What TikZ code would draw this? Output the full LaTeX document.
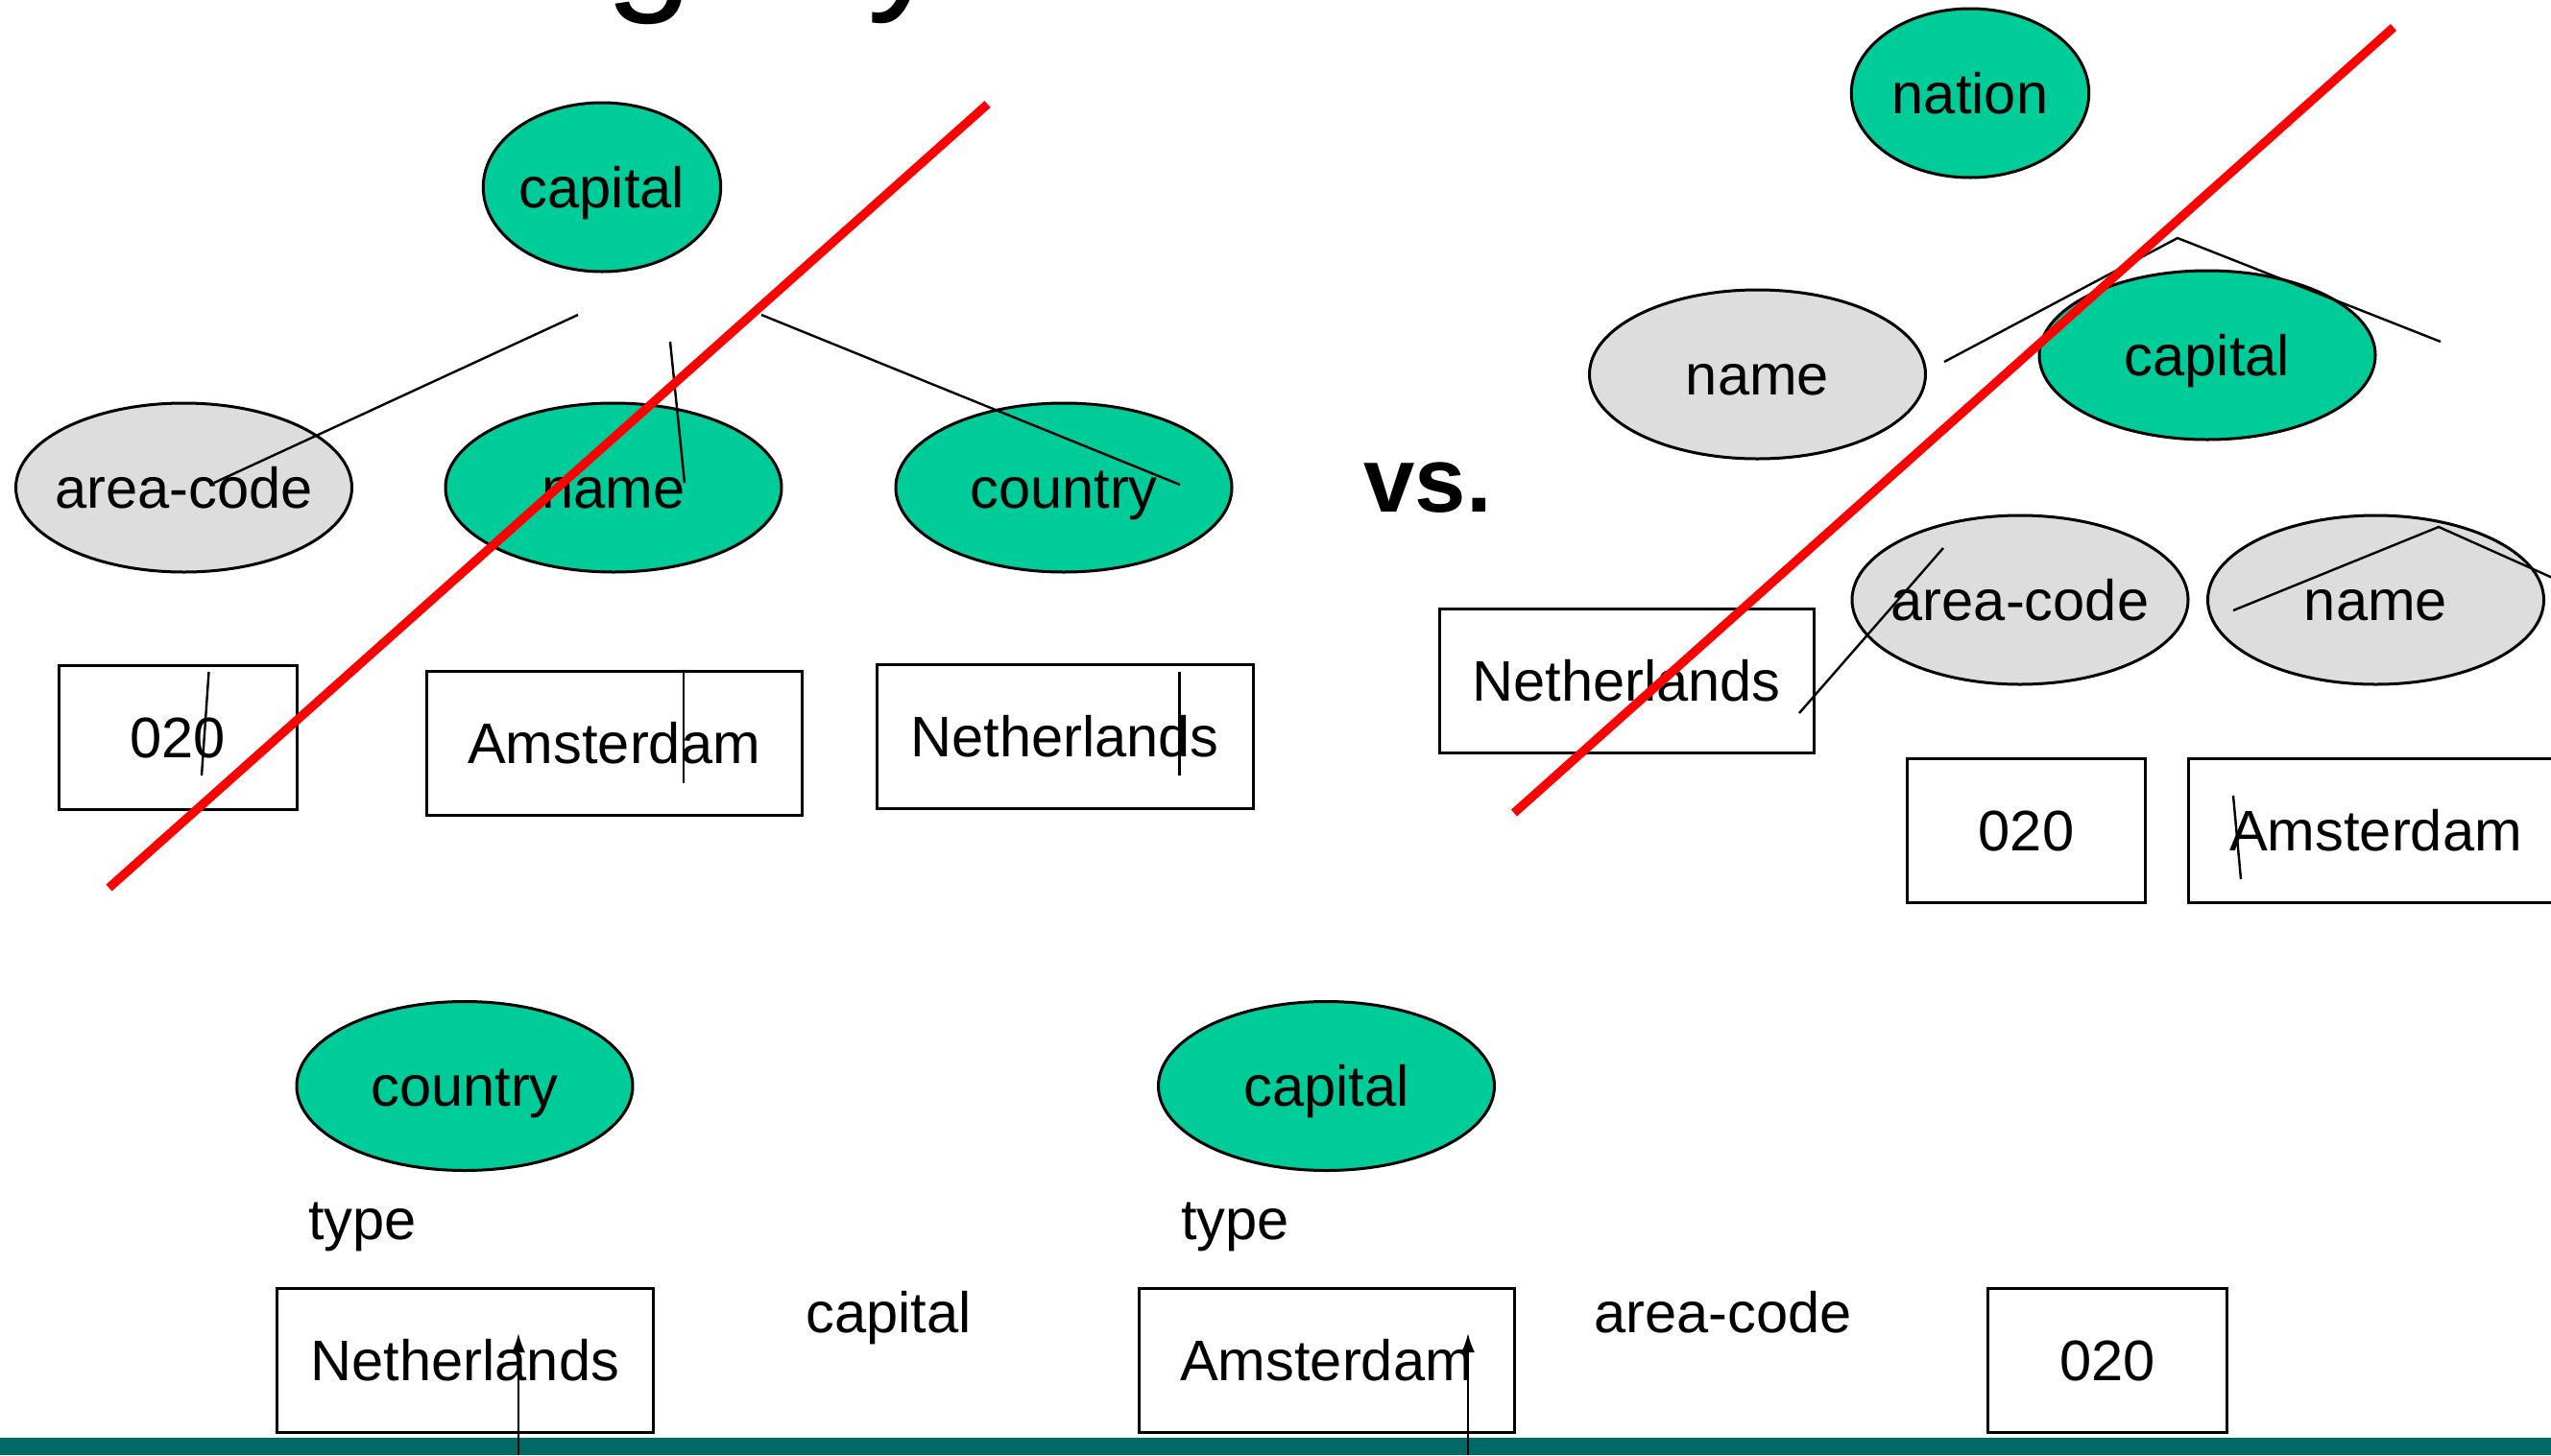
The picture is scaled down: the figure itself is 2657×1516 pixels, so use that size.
\documentclass[tikz,border=0pt]{standalone}
\usepackage{fontspec}
\setmainfont{Liberation Sans}
\usetikzlibrary{shapes.geometric,arrows.meta}
\definecolor{conceptgreen}{HTML}{00CC99}
\definecolor{attrgrey}{HTML}{DDDDDD}
\definecolor{footerteal}{HTML}{006966}
\definecolor{strikered}{HTML}{FF0000}
\newcommand{\bodyfont}{\fontsize{29.8}{36}\selectfont}
% label that does not widen the ellipse around it
\newcommand{\inlbl}[1]{\makebox[0pt]{#1}}

\begin{document}
\begin{tikzpicture}[x=0.5pt,y=-0.5pt,
  lbl/.style={font=\bodyfont, inner sep=0pt, text height=21.4pt, text depth=0pt},
  freelbl/.style={font=\bodyfont, inner sep=0pt, anchor=base west},
  concept/.style={lbl, ellipse, draw, line width=1.5pt, fill=conceptgreen},
  attrib/.style={lbl, ellipse, draw, line width=1.5pt, fill=attrgrey},
  narrow/.style={minimum width=123.7pt, minimum height=88pt},
  wide/.style={minimum width=175pt, minimum height=88pt},
  valbox/.style={lbl, rectangle, draw, line width=1.5pt, minimum height=75pt},
  shortbox/.style={valbox, minimum width=124pt},
  longbox/.style={valbox, minimum width=195.5pt},
  link/.style={line width=1.2pt},
  cross/.style={strikered, line width=4.6pt},
  typeof/.style={line width=1.2pt, -{Latex[length=10pt,width=7pt]}}]

\useasboundingbox (0,0) rectangle (2657,1516);
\clip (0,0) rectangle (2657,1516);

% heading, mostly above the frame
\node[font=\fontsize{82.5}{90}\selectfont, inner sep=0pt, anchor=base west] (hg) at (630,-9) {g};
\node[font=\fontsize{82.5}{90}\selectfont, inner sep=0pt, anchor=base west] (hy) at (903,-10) {y};

% ---------- left tree ----------
\node[concept, narrow] (cap1) at (627,195) {\inlbl{capital}};
\node[attrib, wide] (ac1) at (191.5,508) {\inlbl{area-code}};
\node[concept, wide] (nm1) at (639,508) {\inlbl{name}};
\node[concept, wide] (co1) at (1108,508) {\inlbl{country}};
\node[shortbox] (v020a) at (185,768) {020};
\node[longbox] (vamsa) at (639.5,774.5) {Amsterdam};
\node[longbox, minimum width=196pt] (vneta) at (1109,767.5) {Netherlands};

\coordinate (l1a) at (602,328);  \coordinate (l1b) at (223,503);
\coordinate (l2a) at (698,356);  \coordinate (l2b) at (713,503);
\coordinate (l3a) at (793,328);  \coordinate (l3b) at (1229,505);
\coordinate (l4a) at (217.5,700); \coordinate (l4b) at (210,808);
\coordinate (l5a) at (712,700);  \coordinate (l5b) at (712,816);
\coordinate (l6a) at (1228.5,700); \coordinate (l6b) at (1228.5,808);
\draw[link] (l1a) -- (l1b);
\draw[link] (l2a) -- (l2b);
\draw[link] (l3a) -- (l3b);
\draw[link] (l4a) -- (l4b);
\draw[link] (l5a) -- (l5b);
\draw[link] (l6a) -- (l6b);

\coordinate (x1a) at (113.5,925); \coordinate (x1b) at (1028.6,108.5);
\draw[cross] (x1a) -- (x1b);

% ---------- vs. ----------
\node[font=\fontsize{48}{54}\selectfont\bfseries, inner sep=0pt, anchor=base west] (vs) at (1420,533) {vs.};

% ---------- right tree ----------
\node[concept, narrow] (nation) at (2052,97) {\inlbl{nation}};
\node[attrib, wide] (nm2) at (1830.5,390) {\inlbl{name}};
\node[concept, wide] (cap2) at (2299,370) {\inlbl{capital}};
\node[attrib, wide] (ac2) at (2104,625) {\inlbl{area-code}};
\node[attrib, wide] (nm3) at (2474.5,625) {\inlbl{name}};
\node[longbox, minimum width=195pt] (vnetb) at (1694,709) {Netherlands};
\node[shortbox] (v020b) at (2110.5,865.5) {020};
\node[longbox] (vamsb) at (2474.5,865.5) {Amsterdam};

\coordinate (r1a) at (2025,377); \coordinate (r1b) at (2268,248); \coordinate (r1c) at (2542,356);
\coordinate (r2a) at (2024,571); \coordinate (r2b) at (1874,743);
\coordinate (r3a) at (2326,636); \coordinate (r3b) at (2540,549); \coordinate (r3c) at (2710,625);
\coordinate (r4a) at (2326,829); \coordinate (r4b) at (2334,916);
\draw[link] (r1a) -- (r1b) -- (r1c);
\draw[link] (r2a) -- (r2b);
\draw[link] (r3a) -- (r3b) -- (r3c);
\draw[link] (r4a) -- (r4b);

\coordinate (x2a) at (1577,847); \coordinate (x2b) at (2493,28.5);
\draw[cross] (x2a) -- (x2b);

% ---------- typed graph ----------
\node[concept, wide] (co3) at (484,1131.5) {\inlbl{country}};
\node[concept, wide] (cap3) at (1381.5,1131.5) {\inlbl{capital}};
\node[freelbl] (t1) at (321,1291) {type};
\node[freelbl] (t2) at (1230,1291) {type};
\node[longbox, minimum width=196pt] (vnetc) at (484.4,1417) {Netherlands};
\node[freelbl] (ecap) at (839,1388) {capital};
\node[longbox] (vamsc) at (1381.5,1417) {Amsterdam};
\node[freelbl] (eac) at (1660,1388) {area-code};
\node[shortbox, minimum width=124.75pt] (v020c) at (2195,1417) {020};

% footer band
\fill[footerteal] (0,1498) rectangle (2657,1516);

\coordinate (a1s) at (540,1516);  \coordinate (a1e) at (540,1389);
\coordinate (a2s) at (1529,1516); \coordinate (a2e) at (1529,1389);
\draw[typeof] (a1s) -- (a1e);
\draw[typeof] (a2s) -- (a2e);

\end{tikzpicture}
\end{document}
